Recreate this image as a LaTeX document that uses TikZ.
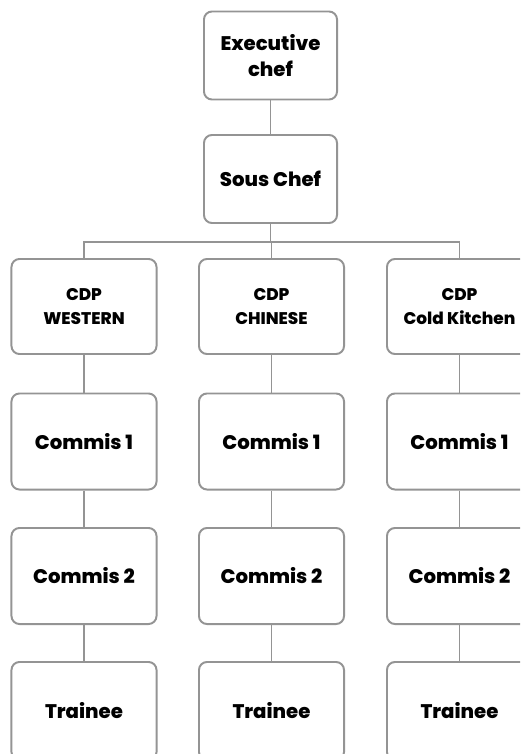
\documentclass[tikz,border=0pt]{standalone}
\usepackage{fontspec}
\setmainfont{Poppins}[BoldFont={Poppins ExtraBold}]
\usepackage{tikz}
\usetikzlibrary{positioning,calc}

\begin{document}
\begin{tikzpicture}[
    x=0.025cm, y=-0.025cm,
    block/.style={rectangle, rounded corners=0.2cm, draw=black!42, line width=1.4pt, fill=white,
        minimum width=3.625cm, minimum height=2.4cm, align=center,
        font=\fontsize{14}{18}\selectfont\bfseries},
    topblock/.style={block, minimum width=3.325cm, minimum height=2.2cm},
    cdpblock/.style={block, minimum height=2.375cm, font=\fontsize{12}{17}\selectfont\bfseries},
    link/.style={draw=black!42, line width=1.4pt}
]
    \clip (0,0) rectangle (520,754);
    \fill[white] (0,0) rectangle (520,754);

    % head of kitchen
    \node[topblock] (exec) at (270.5,55.5) {Executive\\chef};
    \node[topblock] (sous) at (270.5,179) {Sous Chef};
    \draw[link] (exec.south) -- (sous.north);

    % sections
    \foreach \i/\x/\txt in {1/84/{CDP\\WESTERN}, 2/271.5/{CDP\\CHINESE}, 3/459.5/{CDP\\Cold Kitchen}} {
        \node[cdpblock] (cdp\i) at (\x,306.5) {\txt};
        \node[block] (ca\i) at (\x,441.5) {Commis 1};
        \node[block] (cb\i) at (\x,576) {Commis 2};
        \node[block, minimum height=2.45cm] (tr\i) at (\x,711) {Trainee};
        \draw[link] (sous.south) -- ++(0,18) -| (cdp\i.north);
        \draw[link] (cdp\i.south) -- (ca\i.north);
        \draw[link] (ca\i.south) -- (cb\i.north);
        \draw[link] (cb\i.south) -- (tr\i.north);
    }
\end{tikzpicture}
\end{document}
